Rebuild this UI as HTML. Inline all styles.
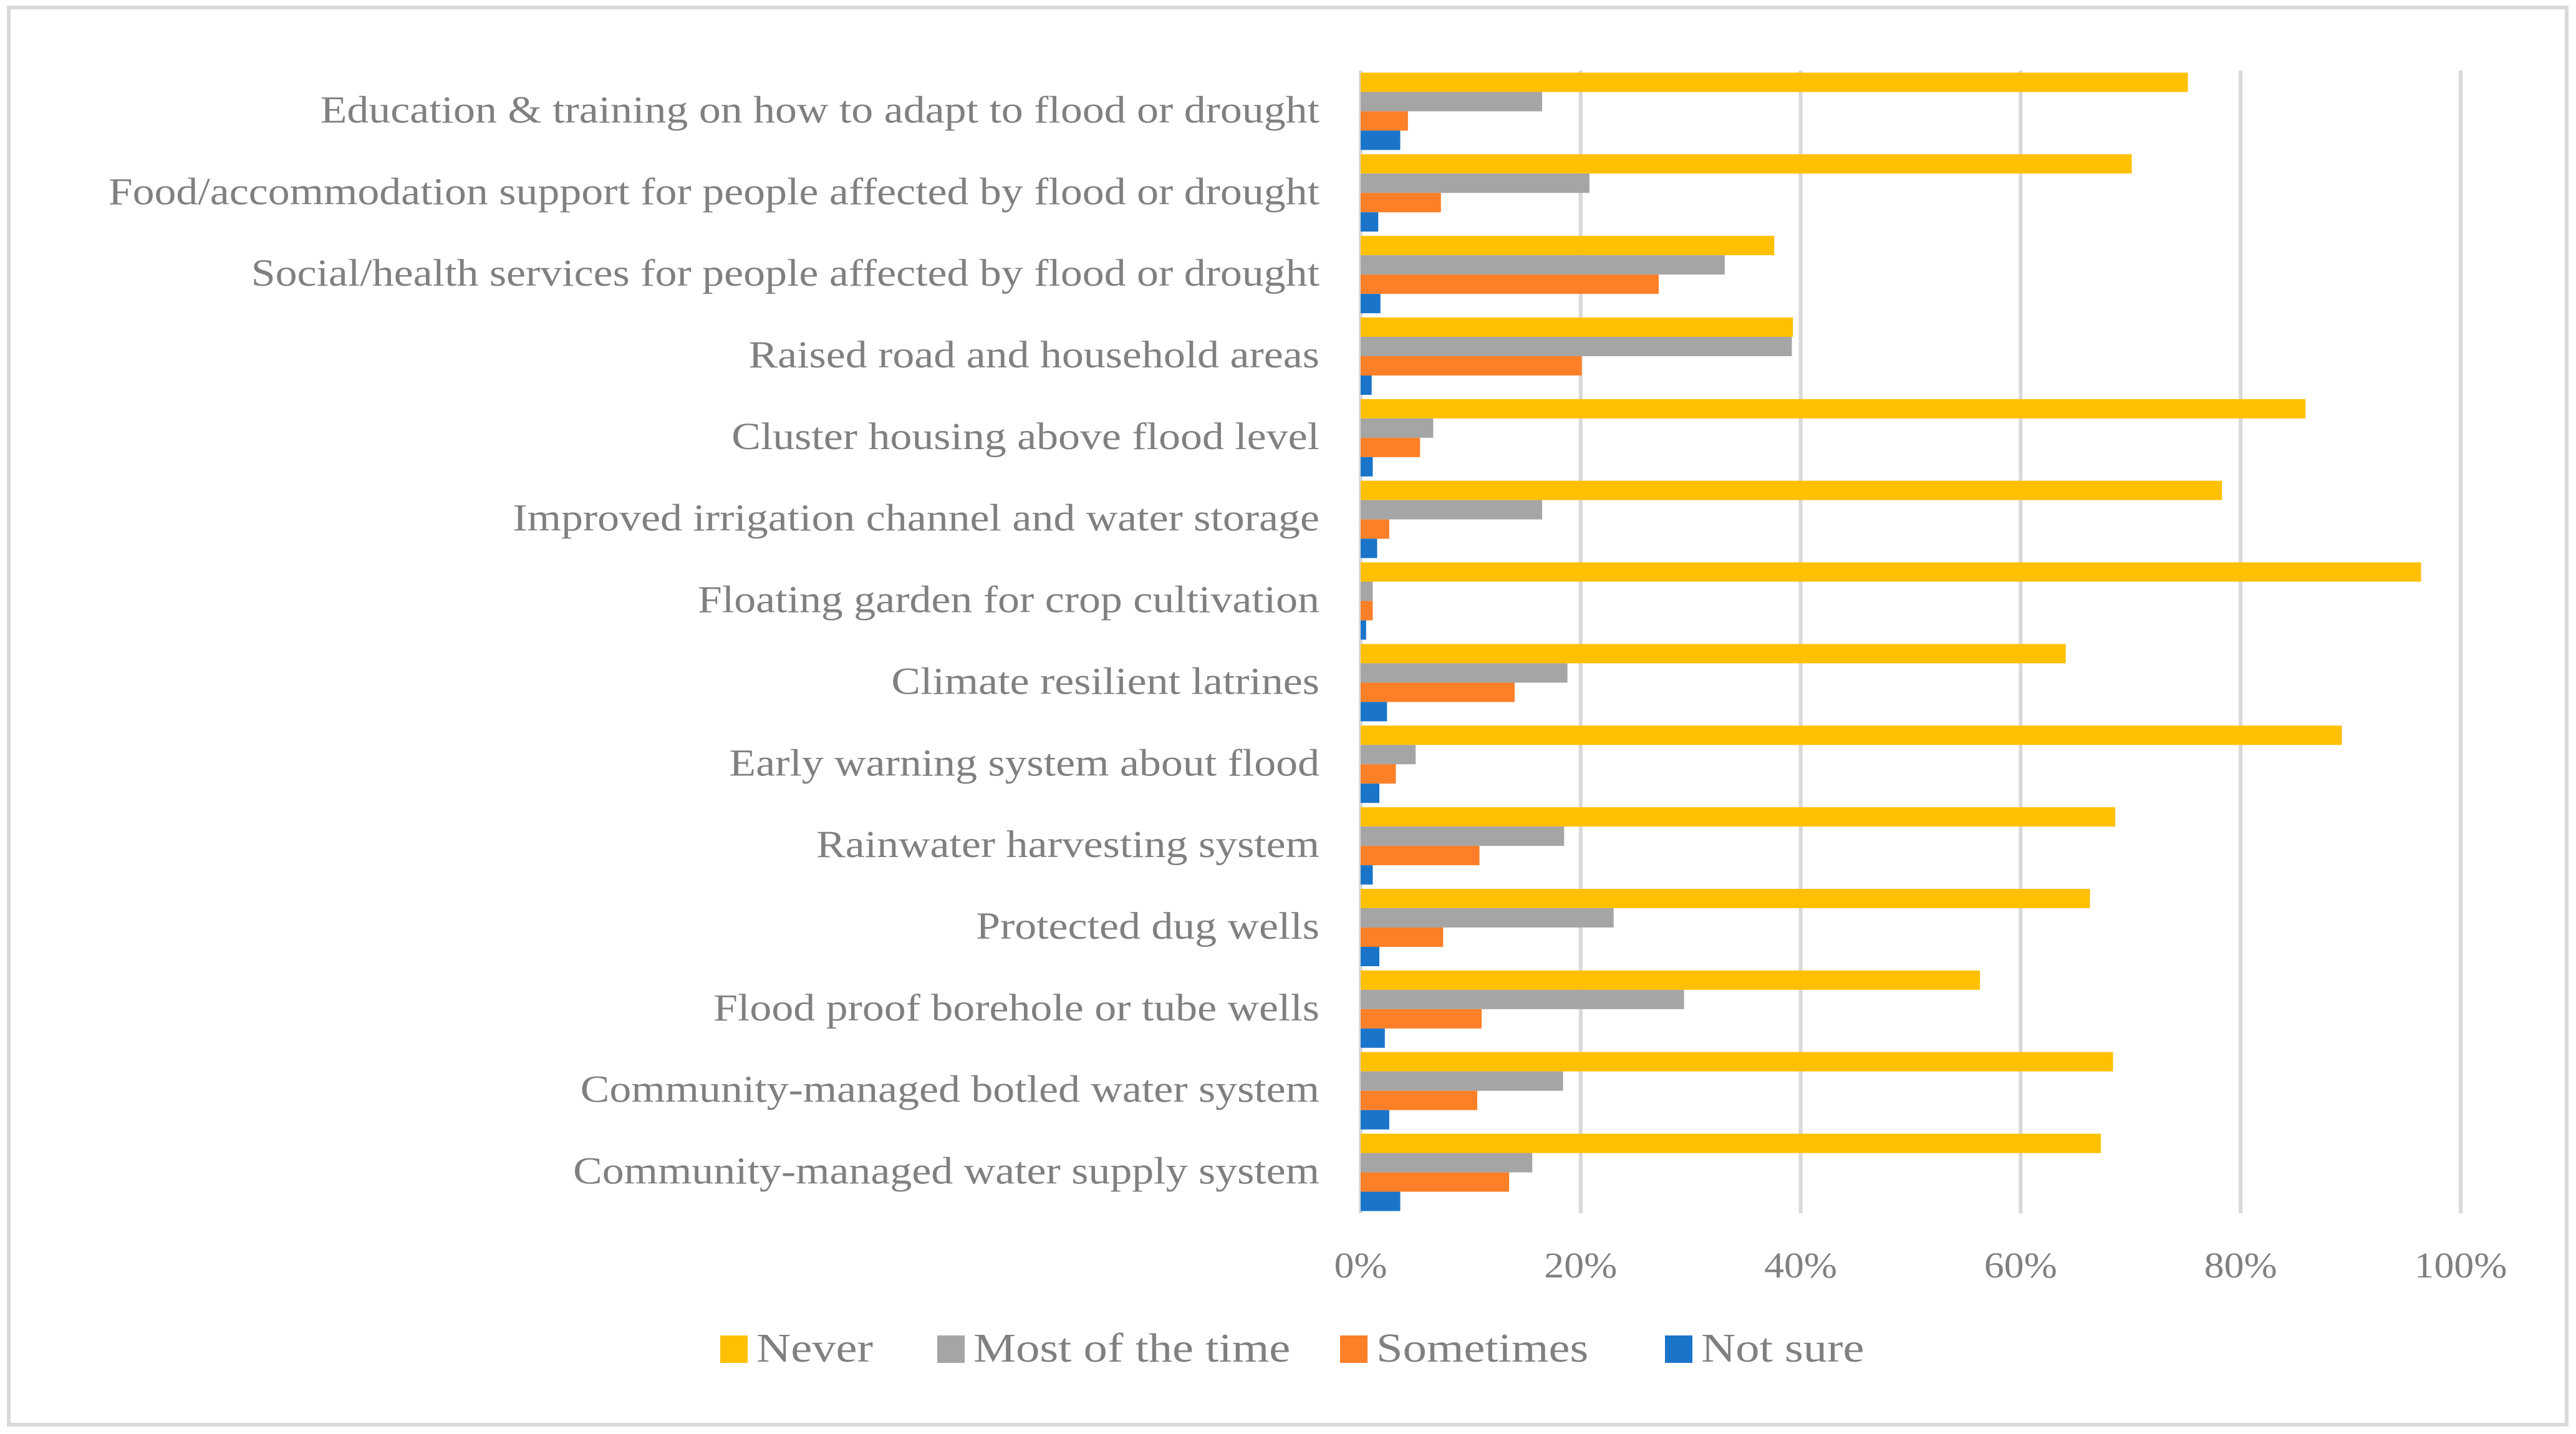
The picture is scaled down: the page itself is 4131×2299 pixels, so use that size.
<!DOCTYPE html>
<html><head><meta charset="utf-8"><style>
html,body{margin:0;padding:0;background:#fff}
svg{display:block}
text{font-family:"Liberation Serif",serif;fill:#808080}
</style></head><body>
<svg id="chart" width="4131" height="2299" viewBox="0 0 4131 2299" xmlns="http://www.w3.org/2000/svg">
<rect x="14" y="12" width="4102" height="2272" fill="#fff" stroke="#d9d9d9" stroke-width="6"/>
<g id="grid"></g><g id="bars"></g><g id="labels"></g><g id="ticks"></g><g id="legend"></g>
</svg>
<script>
const categories=["Education & training on how to adapt to flood or drought","Food/accommodation support for people affected by flood or drought","Social/health services for people affected by flood or drought","Raised road and household areas","Cluster housing above flood level","Improved irrigation channel and water storage","Floating garden for crop cultivation","Climate resilient latrines","Early warning system about flood","Rainwater harvesting system","Protected dug wells","Flood proof borehole or tube wells","Community-managed botled water system","Community-managed water supply system"];
const never=[75.2,70.1,37.6,39.3,85.9,78.3,96.4,64.1,89.2,68.6,66.3,56.3,68.4,67.3];
const mostOfTime=[16.5,20.8,33.1,39.2,6.6,16.5,1.1,18.8,5.0,18.5,23.0,29.4,18.4,15.6];
const sometimes=[4.3,7.3,27.1,20.1,5.4,2.6,1.1,14.0,3.2,10.8,7.5,11.0,10.6,13.5];
const notSure=[3.6,1.6,1.8,1.0,1.1,1.5,0.5,2.4,1.7,1.1,1.7,2.2,2.6,3.6];
const tickLabels=["0%","20%","40%","60%","80%","100%"];
const tickValues=[0,20,40,60,80,100];
const seriesNames=["Never","Most of the time","Sometimes","Not sure"];
const NS="http://www.w3.org/2000/svg";
const x0=2182,x1=3946,yTop=113,yBot=1945;
const xs=v=>x0+(x1-x0)*v/100;
const band=(yBot-yTop)/categories.length;
const barH=31;
const colors=["#ffc000","#a5a5a5","#fd7f28","#1a75ca"];
const series=[never,mostOfTime,sometimes,notSure];
function mk(tag,attrs,parent){const e=document.createElementNS(NS,tag);for(const k in attrs)e.setAttribute(k,attrs[k]);document.getElementById(parent).appendChild(e);return e;}
function stretch(t,f){const w=t.getComputedTextLength();t.setAttribute('textLength',w*f);t.setAttribute('lengthAdjust','spacingAndGlyphs');}
tickValues.forEach((t,i)=>{
  const g=mk('line',{x1:xs(t),x2:xs(t),y1:yTop,y2:yBot,stroke:'#d9d9d9','stroke-width':6},'grid');
  
  
  const tl=mk('text',{x:xs(t),y:2048,'text-anchor':'middle','font-size':58},'ticks');
  tl.textContent=tickLabels[i];
  
  
  stretch(tl,1.1);
});
categories.forEach((c,i)=>{
  const top=yTop+i*band+(band-4*barH)/2;
  series.forEach((s,j)=>{
    const r=mk('rect',{x:x0,y:top+j*barH,width:Math.max(0,xs(s[i])-x0),height:barH,fill:colors[j]},'bars');
    
    
  });
  const t=mk('text',{x:2116,y:yTop+i*band+band/2+18,'text-anchor':'end','font-size':61},'labels');
  t.textContent=c;
  
  
  stretch(t,1.145);
});
const legX=[1155,1503,2149,2670];
seriesNames.forEach((n,j)=>{
  const r=mk('rect',{x:legX[j],y:2141,width:44,height:44,fill:colors[j]},'legend');
  
  
  const t=mk('text',{x:legX[j]+58,y:2183,'font-size':66},'legend');
  t.textContent=n;
  
  
  stretch(t,1.16);
});
</script>
</body></html>
